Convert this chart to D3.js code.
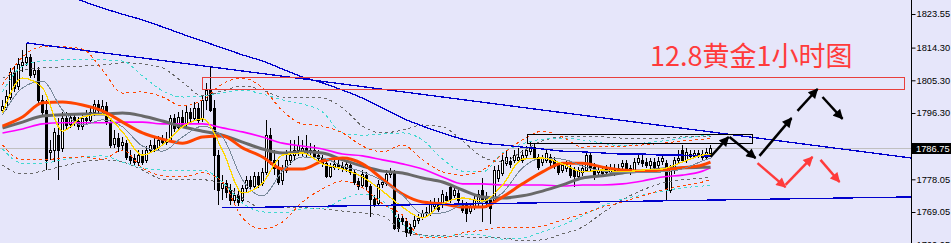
<!DOCTYPE html>
<html>
<head>
<meta charset="utf-8">
<script src="https://cdn.jsdelivr.net/npm/d3@7"></script>
<style>
  body { margin: 0; background: #E6E6FA; overflow: hidden; }
  svg { display: block; }
</style>
</head>
<body>
<div id="chart"></div>
<script>
// candles, one hour each (oldest first)
var opens = [1797.1,1797.9,1800.7,1807.6,1803.7,1809.5,1810.3,1811.7,1807.0,1808.1,1799.9,1797.1,1785.6,1786.1,1790.2,1786.7,1794.9,1793.3,1795.2,1794.1,
  1792.7,1794.9,1794.4,1796.6,1798.8,1797.1,1798.2,1793.8,1787.8,1789.4,1787.5,1788.0,1784.5,1783.9,1782.8,1784.7,1783.4,1786.1,1787.5,1786.9,
  1788.9,1788.3,1788.9,1794.9,1792.5,1795.2,1793.3,1796.6,1794.9,1797.7,1794.9,1799.9,1802.6,1797.7,1784.7,1775.7,1777.0,1775.1,1772.4,1773.7,
  1772.4,1775.7,1777.9,1776.2,1779.0,1777.0,1780.1,1790.2,1783.4,1781.2,1777.9,1780.6,1783.4,1784.7,1786.1,1785.6,1786.7,1785.6,1786.1,1784.7,
  1783.9,1782.5,1779.0,1781.4,1782.3,1781.7,1781.2,1782.0,1780.1,1777.6,1776.5,1779.2,1776.2,1772.6,1771.5,1776.8,1777.0,1779.5,1780.1,1767.4,
  1767.4,1766.6,1764.9,1765.2,1766.9,1767.7,1768.8,1768.8,1770.7,1771.8,1771.3,1773.5,1775.9,1773.7,1774.3,1771.5,1771.0,1769.3,1770.4,1771.5,
  1775.1,1773.2,1772.4,1772.4,1778.4,1779.8,1782.5,1783.1,1783.4,1783.4,1783.4,1784.7,1785.8,1786.9,1784.2,1782.8,1783.4,1784.2,1783.4,1782.0,
  1780.6,1781.2,1781.2,1780.6,1779.0,1780.1,1780.6,1784.7,1781.4,1780.1,1780.6,1781.2,1780.1,1781.2,1780.6,1781.7,1782.5,1781.2,1780.6,1782.8,
  1783.4,1782.8,1782.0,1782.8,1782.0,1783.1,1782.5,1775.1,1780.6,1783.4,1786.1,1783.4,1785.0,1784.5,1785.3,1785.0,1784.2,1785.3];
var highs = [1799.9,1802.6,1808.7,1809.2,1811.4,1813.6,1815.6,1812.5,1810.3,1809.0,1801.3,1799.9,1788.9,1792.2,1794.9,1796.6,1796.6,1796.3,1796.0,1795.2,
  1796.0,1797.1,1797.7,1799.9,1799.9,1799.9,1799.3,1794.9,1791.6,1790.8,1789.7,1788.9,1786.1,1785.0,1786.1,1786.1,1787.2,1788.9,1789.4,1790.0,
  1790.2,1791.1,1795.8,1796.0,1796.6,1797.1,1798.2,1797.7,1799.3,1799.1,1801.3,1804.6,1809.0,1799.9,1786.1,1779.2,1777.9,1776.8,1775.7,1775.1,
  1776.5,1779.0,1779.0,1780.1,1780.1,1781.2,1794.4,1792.2,1786.1,1783.4,1782.0,1786.1,1788.9,1788.9,1790.0,1788.9,1790.2,1788.0,1787.5,1786.1,
  1784.7,1783.4,1782.5,1783.4,1783.4,1782.8,1783.4,1782.8,1780.6,1778.4,1780.6,1780.1,1776.8,1773.7,1777.9,1778.4,1780.6,1781.2,1780.6,1768.5,
  1768.5,1767.4,1765.8,1768.0,1768.5,1769.6,1770.4,1772.4,1772.9,1772.9,1775.1,1774.6,1776.5,1775.7,1775.1,1772.4,1771.8,1771.3,1773.5,1775.1,
  1778.4,1774.6,1773.5,1781.7,1782.0,1784.7,1786.1,1784.2,1786.1,1786.7,1786.1,1787.2,1788.3,1787.8,1785.0,1784.7,1786.1,1785.0,1784.2,1782.8,
  1782.8,1783.4,1782.0,1781.4,1781.4,1782.0,1785.8,1785.6,1782.5,1781.7,1781.7,1782.0,1782.3,1782.3,1782.3,1783.4,1783.4,1782.0,1783.9,1784.7,
  1784.7,1783.9,1783.9,1783.9,1784.2,1785.0,1783.4,1782.0,1784.2,1786.1,1787.5,1786.7,1786.1,1786.1,1786.1,1786.1,1786.7,1787.5];
var lows = [1796.3,1797.1,1799.9,1802.1,1802.6,1807.6,1809.2,1805.9,1805.9,1799.1,1795.5,1780.6,1783.4,1782.8,1777.9,1785.6,1791.6,1792.2,1792.7,1791.6,
  1791.6,1793.0,1793.3,1795.5,1796.0,1795.8,1793.0,1786.7,1786.7,1785.6,1786.1,1783.4,1782.0,1782.0,1781.7,1782.0,1782.5,1785.3,1785.6,1786.1,
  1787.2,1787.5,1788.3,1791.1,1791.6,1792.2,1792.5,1793.8,1794.4,1793.3,1793.8,1797.1,1796.6,1775.1,1771.0,1772.4,1772.9,1771.0,1771.0,1770.7,
  1771.5,1774.6,1775.1,1775.4,1775.7,1776.2,1779.2,1782.0,1779.2,1776.5,1776.5,1779.8,1782.0,1783.4,1784.5,1784.2,1784.2,1783.9,1783.4,1782.8,
  1781.4,1778.4,1778.4,1780.6,1780.6,1780.1,1780.1,1779.2,1776.5,1775.1,1775.7,1775.1,1767.7,1770.4,1770.7,1775.7,1776.2,1778.4,1764.1,1763.6,
  1765.5,1762.2,1762.5,1764.4,1765.8,1766.9,1768.0,1768.0,1769.6,1769.1,1770.2,1771.3,1771.5,1772.9,1771.5,1768.8,1766.3,1768.5,1769.6,1770.7,
  1766.3,1770.2,1765.8,1771.5,1777.3,1779.0,1781.7,1781.2,1782.5,1782.5,1782.5,1783.9,1784.7,1783.4,1780.6,1781.7,1782.5,1781.7,1780.9,1779.2,
  1779.8,1780.1,1778.4,1775.9,1777.9,1779.0,1780.1,1780.1,1777.9,1779.0,1778.7,1779.2,1779.2,1779.0,1779.5,1780.6,1780.1,1779.2,1779.8,1782.0,
  1781.4,1781.2,1780.6,1780.6,1781.2,1782.0,1772.4,1774.3,1779.5,1782.5,1782.5,1782.5,1783.4,1783.9,1783.9,1783.4,1783.4,1784.7];
var closes = [1798.2,1801.0,1807.6,1803.2,1809.8,1810.3,1811.7,1806.8,1808.1,1799.9,1796.6,1783.4,1786.1,1791.1,1786.1,1794.9,1793.0,1795.2,1793.8,1792.7,
  1794.9,1794.4,1796.6,1798.8,1797.1,1798.2,1793.8,1787.5,1789.4,1787.2,1788.3,1784.2,1783.4,1782.8,1784.7,1782.8,1786.1,1787.5,1786.7,1788.9,
  1788.3,1788.9,1794.9,1792.2,1795.2,1793.0,1796.6,1794.9,1797.7,1794.4,1799.9,1802.6,1797.1,1784.7,1775.1,1777.0,1774.6,1772.4,1773.7,1771.8,
  1775.7,1777.9,1776.2,1779.0,1776.8,1780.1,1790.2,1783.4,1781.2,1777.3,1780.6,1783.4,1784.7,1786.1,1787.5,1786.7,1785.3,1786.1,1784.5,1783.9,
  1782.5,1779.0,1781.4,1782.3,1781.7,1781.2,1782.3,1780.1,1777.3,1776.2,1779.5,1776.2,1772.6,1771.3,1776.8,1777.3,1779.5,1780.1,1764.7,1764.7,
  1766.6,1763.6,1763.3,1766.9,1767.4,1768.8,1769.1,1771.3,1771.8,1769.9,1774.0,1772.4,1772.4,1775.1,1772.4,1769.6,1768.8,1770.4,1772.4,1774.0,
  1772.4,1771.5,1770.2,1780.6,1780.6,1783.4,1784.2,1782.3,1784.7,1784.2,1784.7,1786.1,1786.9,1783.9,1781.4,1783.9,1785.3,1782.8,1781.7,1780.1,
  1782.0,1782.3,1779.2,1779.0,1780.6,1781.2,1784.7,1781.2,1779.0,1780.6,1779.8,1780.1,1781.2,1780.1,1781.2,1782.5,1781.2,1780.1,1782.8,1783.9,
  1782.5,1782.0,1783.1,1781.4,1783.1,1783.9,1775.4,1781.2,1783.4,1783.9,1783.4,1785.6,1784.5,1785.3,1784.7,1784.2,1785.6,1786.75];

// indicator readings, one value per grid candle index
var gridIdx = [0,5,10,15,20,25,30,35,40,45,50,55,60,65,70,75,80,85,90,95,100,105,110,115,120,125,130,135,140,145,150,155,160,165,170,175,177];
var maYellow = [1796.3,1805.9,1803.2,1791.3,1795.2,1796.0,1791.1,1784.7,1787.5,1792.5,1794.7,1786.1,1774.3,1777.0,1784.7,1785.3,1782.3,1780.9,1778.7,1774.8,
  1770.4,1767.4,1771.3,1772.9,1772.1,1776.5,1783.6,1783.9,1782.3,1780.1,1780.6,1780.1,1780.6,1780.9,1782.8,1784.7,1785.0];
var maSlate = [1795.8,1803.2,1805.1,1797.1,1793.0,1794.4,1792.5,1787.2,1785.8,1789.7,1792.7,1789.7,1777.9,1773.5,1780.3,1784.2,1783.9,1781.7,1780.1,1777.6,
  1773.7,1768.5,1768.8,1771.0,1771.8,1774.3,1781.2,1783.9,1783.6,1781.7,1780.3,1779.8,1779.8,1780.1,1780.9,1783.1,1783.9];
var maOrange = [1792.7,1795.2,1799.1,1799.3,1798.5,1796.9,1793.8,1790.8,1789.1,1788.0,1789.7,1790.0,1786.7,1784.2,1780.9,1780.9,1783.1,1783.9,1782.3,1778.1,
  1774.0,1771.8,1771.3,1770.4,1770.4,1773.2,1776.8,1780.1,1782.5,1782.5,1781.4,1780.6,1780.3,1780.6,1781.2,1782.0,1782.8];
var maGray = [1792.2,1793.8,1795.5,1795.8,1796.0,1796.0,1796.3,1795.5,1794.1,1792.5,1791.3,1790.2,1788.3,1786.4,1785.3,1785.6,1785.3,1783.4,1781.7,1780.3,
  1779.8,1778.4,1777.3,1775.1,1773.2,1772.9,1773.5,1774.8,1776.5,1778.4,1779.0,1779.8,1780.3,1780.9,1781.2,1781.4,1781.4];
var maMagenta = [1790.8,1791.9,1793.3,1793.6,1793.6,1793.6,1793.8,1793.8,1793.3,1793.3,1793.3,1792.2,1791.1,1789.7,1788.0,1787.2,1786.4,1785.0,1784.5,1783.4,
  1782.3,1780.9,1778.7,1776.8,1776.8,1776.5,1776.5,1776.5,1776.2,1776.5,1776.5,1776.8,1777.6,1778.7,1779.2,1780.3,1781.2];
var maBlue = [null,null,null,1829.1,1827.1,1825.2,1823.5,1821.9,1820.0,1818.0,1816.1,1814.2,1812.3,1810.6,1808.4,1806.2,1804.6,1802.6,1800.4,1797.7,
  1794.9,1792.7,1790.8,1789.1,1788.0,1787.5,1786.9,1786.4,1785.8,1785.6,1785.3,1785.0,1785.0,1784.7,1784.7,1784.5,1784.5];
var bandOrangeUp = [1804.0,1811.7,1814.5,1814.5,1813.9,1808.1,1801.8,1802.1,1800.7,1798.2,1799.9,1804.3,1805.9,1803.2,1796.9,1793.3,1792.7,1790.8,1787.2,1785.6,
  1787.5,1783.4,1780.1,1779.2,1780.6,1785.0,1788.9,1791.3,1789.7,1786.9,1787.2,1787.2,1787.5,1788.0,1788.6,1789.1,1789.4];
var bandOrangeDn = [1787.5,1783.4,1783.4,1783.9,1784.2,1783.6,1786.1,1781.2,1779.0,1778.7,1779.8,1777.3,1767.4,1764.4,1766.3,1771.8,1775.4,1777.6,1775.7,1771.3,
  1768.2,1761.9,1761.9,1763.3,1764.1,1764.9,1764.7,1765.2,1766.9,1768.5,1770.4,1771.8,1773.5,1775.1,1776.2,1777.3,1777.9];
var bandCyanUp = [1802.1,1809.2,1810.6,1810.9,1810.9,1810.9,1810.6,1806.5,1802.4,1800.7,1801.0,1801.8,1802.6,1801.5,1799.9,1798.8,1796.6,1790.8,1790.2,1790.5,
  1790.8,1788.9,1783.6,1780.3,1780.1,1785.3,1787.8,1789.1,1789.4,1788.9,1788.0,1787.2,1788.0,1788.6,1789.4,1790.0,1790.2];
var bandCyanDn = [1786.4,1782.5,1782.5,1783.4,1784.2,1784.5,1782.8,1781.2,1780.6,1780.6,1780.6,1777.3,1771.5,1769.1,1768.8,1769.9,1769.9,1772.6,1774.0,1772.1,
  1765.8,1762.5,1762.2,1763.0,1762.7,1761.6,1761.9,1763.6,1765.5,1768.0,1770.7,1772.6,1773.7,1774.8,1775.7,1776.2,1776.5];
var bandGrayUp = [1805.9,1808.1,1808.7,1809.0,1809.2,1809.5,1810.1,1809.8,1808.7,1804.8,1801.0,1802.4,1803.7,1802.6,1800.7,1800.7,1800.4,1797.7,1792.7,1790.8,
  1791.6,1793.0,1792.5,1788.6,1784.2,1782.8,1785.8,1788.6,1789.7,1789.7,1789.7,1789.4,1789.4,1789.4,1789.7,1789.7,1789.7];
var bandGrayDn = [1782.0,1779.5,1780.3,1781.7,1782.8,1783.4,1782.8,1780.6,1778.1,1777.9,1777.9,1776.8,1772.9,1770.2,1770.2,1770.2,1769.9,1769.3,1768.8,1768.0,
  1763.8,1762.7,1762.5,1762.2,1761.9,1761.9,1761.1,1761.4,1763.0,1764.9,1768.8,1772.4,1775.1,1777.0,1777.9,1778.4,1778.7];

// drawn objects: [candle index, price]
var trendUpper = [[6, 1815.6], [227.25, 1783.9]];
var trendLower = [[55, 1770.2], [227.25, 1773.2]];
var zoneRed = [[49.75, 1806.2], [225.25, 1802.9]];
var zoneBlack = [[131, 1790.5], [187.25, 1788.0]];
var arrowsBlack = [
  [[177, 1784.2], [181.5, 1789.7]],
  [[181.75, 1789.7], [188.25, 1783.9]],
  [[189.25, 1784.5], [197.25, 1794.9]],
  [[198.75, 1796.9], [203.75, 1802.9]],
  [[205, 1800.7], [210, 1794.7]]
];
var arrowsRed = [
  [[188.75, 1782.5], [195.75, 1775.9]],
  [[195.75, 1776.5], [202.5, 1784.2]],
  [[204.5, 1783.4], [209.25, 1777.3]]
];

var axisTicks = [1823.55, 1814.30, 1805.30, 1796.30, 1778.05, 1769.05, 1760.05];
var lastPrice = 1786.75;
var title = "12.8黄金1小时图";

var width = 951, height = 243, axisX = 911;

var svg = d3.select("#chart").append("svg")
  .attr("width", width)
  .attr("height", height);

svg.append("rect").attr("width", width).attr("height", height).attr("fill", "#E6E6FA");

var x = d3.scaleLinear().domain([0, 177]).range([2.5, 710.5]);
var y = d3.scaleLinear().domain([1769.05, 1823.55]).range([212, 14]);

svg.append("clipPath").attr("id", "plot")
  .append("rect").attr("width", axisX).attr("height", height);

var plot = svg.append("g").attr("clip-path", "url(#plot)");

// current price line
plot.append("line")
  .attr("x1", 0).attr("x2", axisX)
  .attr("y1", Math.round(y(lastPrice)) + 0.5).attr("y2", Math.round(y(lastPrice)) + 0.5)
  .attr("stroke", "#C0C0C0").attr("stroke-width", 1);

// candles
var candles = d3.range(closes.length).map(function(i) {
  return { i: i, o: opens[i], h: highs[i], l: lows[i], c: closes[i] };
});

var cg = plot.append("g").attr("shape-rendering", "crispEdges");

cg.selectAll("line.wick")
  .data(candles)
  .enter().append("line")
    .attr("class", "wick")
    .attr("x1", function(d) { return x(d.i); })
    .attr("x2", function(d) { return x(d.i); })
    .attr("y1", function(d) { return Math.round(y(d.h)); })
    .attr("y2", function(d) { return Math.round(y(d.l)); })
    .attr("stroke", "#000");

cg.selectAll("rect.body")
  .data(candles)
  .enter().append("rect")
    .attr("class", "body")
    .attr("x", function(d) { return x(d.i) - 1; })
    .attr("y", function(d) { return Math.round(y(Math.max(d.o, d.c))) + 0.5; })
    .attr("width", 2)
    .attr("height", function(d) { return Math.max(1, Math.round(Math.abs(y(d.o) - y(d.c)))); })
    .attr("fill", function(d) { return d.c >= d.o ? "#FFFFFF" : "#000000"; })
    .attr("stroke", "#000");

// indicator lines
function series(values) {
  return gridIdx.map(function(idx, k) { return [idx, values[k]]; });
}

var line = d3.line()
  .defined(function(d) { return d[1] != null; })
  .x(function(d) { return x(d[0]); })
  .y(function(d) { return y(d[1]); })
  .curve(d3.curveMonotoneX);

function drawLine(values, color, w, dash) {
  plot.append("path")
    .datum(series(values))
    .attr("d", line)
    .attr("fill", "none")
    .attr("stroke", color)
    .attr("stroke-width", w)
    .attr("stroke-dasharray", dash || null)
    .attr("shape-rendering", w <= 1.3 ? "crispEdges" : null);
}

drawLine(bandGrayUp, "#696969", 1, "3,3");
drawLine(bandGrayDn, "#696969", 1, "3,3");
drawLine(bandCyanUp, "#40D8D0", 1, "3,3");
drawLine(bandCyanDn, "#40D8D0", 1, "3,3");
drawLine(bandOrangeUp, "#FF4500", 1, "3,3");
drawLine(bandOrangeDn, "#FF4500", 1, "3,3");
drawLine(maBlue, "#0000CD", 1.3);
drawLine(maMagenta, "#FF00FF", 1.6);
drawLine(maGray, "#696969", 3);
drawLine(maOrange, "#FF4500", 3);
drawLine(maSlate, "#778899", 1);
drawLine(maYellow, "#FFD700", 1.3);

// trend lines
var straight = d3.line()
  .x(function(d) { return x(d[0]); })
  .y(function(d) { return y(d[1]); });

[trendUpper, trendLower].forEach(function(t) {
  plot.append("path").attr("d", straight(t))
    .attr("fill", "none").attr("stroke", "#0000CD").attr("stroke-width", 1.3)
    .attr("shape-rendering", "crispEdges");
});

// zones
function drawZone(z, color) {
  plot.append("rect")
    .attr("x", Math.round(x(z[0][0])) + 0.5)
    .attr("y", Math.round(y(z[0][1])) + 0.5)
    .attr("width", Math.round(x(z[1][0]) - x(z[0][0])))
    .attr("height", Math.round(y(z[1][1]) - y(z[0][1])))
    .attr("fill", "none")
    .attr("stroke", color)
    .attr("stroke-width", 1);
}
drawZone(zoneRed, "#E8403C");
drawZone(zoneBlack, "#000000");

// arrows
var defs = svg.append("defs");
function marker(id, color) {
  defs.append("marker")
    .attr("id", id)
    .attr("viewBox", "0 0 10 10")
    .attr("refX", 9).attr("refY", 5)
    .attr("markerUnits", "userSpaceOnUse")
    .attr("markerWidth", 11).attr("markerHeight", 10)
    .attr("orient", "auto")
    .append("path").attr("d", "M0,0L10,5L0,10z").attr("fill", color);
}
marker("headBlack", "#000000");
marker("headRed", "#FF3B3B");

function drawArrows(list, color, head) {
  list.forEach(function(a) {
    plot.append("path").attr("d", straight(a))
      .attr("fill", "none").attr("stroke", color).attr("stroke-width", 2.5)
      .attr("marker-end", "url(#" + head + ")");
  });
}
drawArrows(arrowsBlack, "#000000", "headBlack");
drawArrows(arrowsRed, "#FF3B3B", "headRed");

// title
plot.append("text")
  .attr("x", 650).attr("y", 66)
  .attr("font-family", "'Noto Sans CJK SC', 'Noto Sans', sans-serif")
  .attr("font-size", 27)
  .attr("fill", "#FF3B3B")
  .text(title);

// price axis
svg.append("line")
  .attr("x1", axisX + 0.5).attr("x2", axisX + 0.5)
  .attr("y1", 0).attr("y2", height)
  .attr("stroke", "#000");

var axis = svg.append("g")
  .attr("transform", "translate(" + (axisX + 0.5) + ",0)")
  .call(d3.axisRight(y).tickValues(axisTicks).tickSize(4).tickPadding(1).tickFormat(d3.format(".2f")));
axis.select(".domain").remove();
axis.selectAll("text")
  .attr("font-family", "'Liberation Sans', Arial, sans-serif")
  .attr("font-size", 9.3)
  .attr("fill", "#000");

var py = y(lastPrice);
svg.append("rect")
  .attr("x", axisX + 1).attr("y", Math.round(py) - 5)
  .attr("width", width - axisX - 1).attr("height", 11)
  .attr("fill", "#000");
svg.append("text")
  .attr("x", axisX + 5).attr("y", Math.round(py) + 0.5)
  .attr("dy", "0.35em")
  .attr("font-family", "'Liberation Sans', Arial, sans-serif")
  .attr("font-size", 9.3)
  .attr("fill", "#FFF")
  .text(lastPrice.toFixed(2));
</script>
</body>
</html>
